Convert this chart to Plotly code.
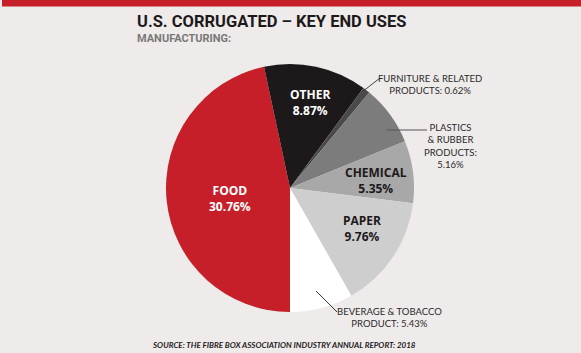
import plotly.graph_objects as go

categories = ["FOOD", "OTHER", "FURNITURE & RELATED PRODUCTS", "PLASTICS & RUBBER PRODUCTS",
              "CHEMICAL", "PAPER", "BEVERAGE & TOBACCO PRODUCT"]
values = [30.76, 8.87, 0.62, 5.16, 5.35, 9.76, 5.43]
colors = ["#c61f2a", "#1d191a", "#4b4a4b", "#7d7c7d", "#a9a8a9", "#cfcecf", "#ffffff"]

W, H = 581, 353
BG = "#efebeb"

def px(x):
    return x / W

def py(y):
    return 1 - y / H

fig = go.Figure(go.Pie(
    labels=categories, values=values, sort=False, direction="clockwise", rotation=180,
    marker=dict(colors=colors, line=dict(width=0)), textinfo="none", hoverinfo="label+value",
    domain=dict(x=[px(166), px(414)], y=[py(312), py(64)]), showlegend=False,
))

ann = []
inside_font = "Open Sans"
def inside(idx, x, y, color, size=11.5):
    ann.append(dict(x=px(x), y=py(y), xref="paper", yref="paper", showarrow=False,
                    xanchor="center", yanchor="middle",
                    text=f"<b>{categories[idx]}<br>{values[idx]:.2f}%</b>",
                    font=dict(family=inside_font, size=size, color=color), align="center"))

inside(0, 230, 198, "#ffffff", 12)
inside(1, 310, 103, "#ffffff", 12)
inside(4, 376, 181, "#1d191a", 12)
inside(5, 362, 228, "#1d191a", 12)

out_font = dict(family="Lato", size=9.5, color="#2a2a2a")
def outside(text, x, y):
    ann.append(dict(x=px(x), y=py(y), xref="paper", yref="paper", showarrow=False,
                    xanchor="center", yanchor="middle", text=text, font=out_font, align="center"))

outside(f"FURNITURE & RELATED<br>PRODUCTS: {values[2]:.2f}%", 430, 84)
outside(f"PLASTICS<br>& RUBBER<br>PRODUCTS:<br>{values[3]:.2f}%", 450, 146)
outside(f"BEVERAGE & TOBACCO<br>PRODUCT: {values[6]:.2f}%", 389.5, 317)

# titles
cond = "Roboto"
ann.append(dict(x=px(135), y=py(21.5), xref="paper", yref="paper", showarrow=False,
                xanchor="left", yanchor="middle",
                text="<b>U.S. CORRUGATED – KEY END USES</b>",
                font=dict(family=cond, size=16.5, color="#1d191a")))
ann.append(dict(x=px(135), y=py(38), xref="paper", yref="paper", showarrow=False,
                xanchor="left", yanchor="middle",
                text="<b>MANUFACTURING:</b>",
                font=dict(family=cond, size=11, color="#7a7878")))
ann.append(dict(x=px(150), y=py(345), xref="paper", yref="paper", showarrow=False,
                xanchor="left", yanchor="middle",
                text="<b><i>SOURCE: THE FIBRE BOX ASSOCIATION INDUSTRY ANNUAL REPORT: 2018</i></b>",
                font=dict(family="Lato", size=8, color="#1d191a")))

shapes = [
    dict(type="rect", xref="paper", yref="paper", x0=px(2), x1=1, y0=py(6.5), y1=1,
         fillcolor="#c61f2a", line=dict(width=0)),
    dict(type="line", xref="paper", yref="paper", x0=px(362), y0=py(92), x1=px(380), y1=py(78),
         line=dict(color="#444444", width=1)),
    dict(type="line", xref="paper", yref="paper", x0=px(387), y0=py(130), x1=px(427), y1=py(130),
         line=dict(color="#555555", width=1.2)),
    dict(type="line", xref="paper", yref="paper", x0=px(316), y0=py(291), x1=px(337), y1=py(312),
         line=dict(color="#333333", width=1)),
]

fig.update_layout(width=W, height=H, margin=dict(l=0, r=0, t=0, b=0),
                  paper_bgcolor=BG, plot_bgcolor=BG, annotations=ann, shapes=shapes)

fig.write_html("out.html")
